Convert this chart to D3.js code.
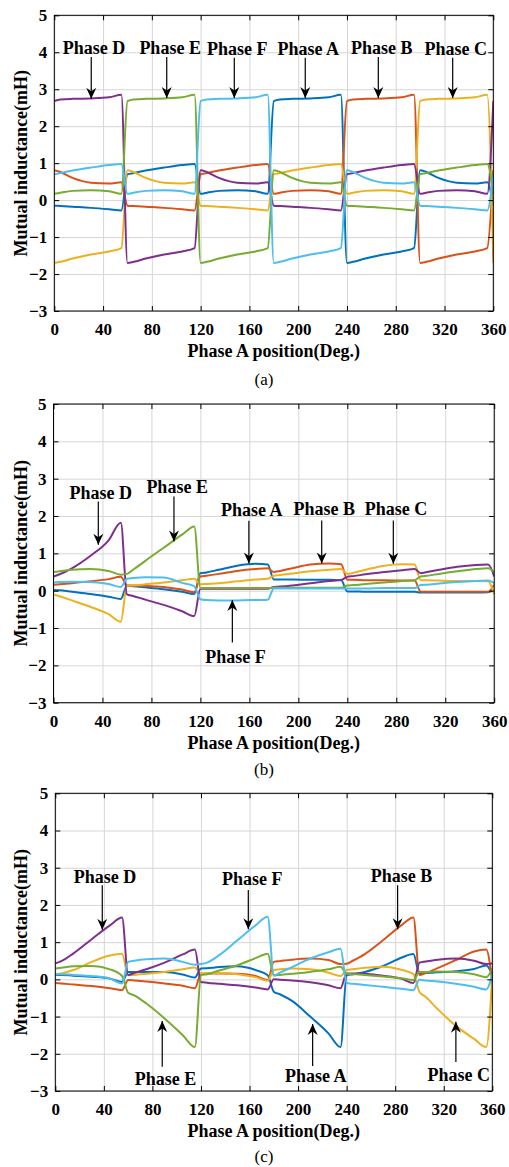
<!DOCTYPE html>
<meta charset="utf-8">
<style>
  body { margin: 0; background: #fff; }
  svg text { font-family: "Liberation Serif", "DejaVu Serif", serif; }
</style>

<!-- Load d3.js -->
<script src="https://d3js.org/d3.v7.min.js"></script>

<!-- Create a div where the graph will take place -->
<div id="my_dataviz"></div>

<script>

    // sample positions (Phase A position, deg) shared by every series
    var angles = [0,5,15,30,45,55, 60,65,75,90,105,115, 120,125,135,150,165,175,
                  180,185,195,210,225,235, 240,245,255,270,285,295, 300,305,315,330,345,355, 360];

    var xTicks = [0,40,80,120,160,200,240,280,320,360];
    var yTicks = [-3,-2,-1,0,1,2,3,4,5];

    var phaseNames  = ["Phase A","Phase B","Phase C","Phase D","Phase E","Phase F"];
    var phaseColors = ["#0072BD","#D95319","#EDB120","#7E2F8E","#77AC30","#4DBEEE"];

    // (a) mutual inductance, mH
    var a_A = [-0.15,-0.16,-0.18,-0.21,-0.25,-0.28, 0.70,0.73,0.80,0.88,0.95,0.98, 0.17,0.20,0.25,0.27,0.24,0.17,
               2.68,2.72,2.74,2.75,2.78,2.85, -1.70,-1.67,-1.58,-1.47,-1.39,-1.30, 0.81,0.76,0.60,0.47,0.45,0.48, -0.15];
    var a_B = [0.81,0.76,0.60,0.47,0.45,0.48, -0.15,-0.16,-0.18,-0.21,-0.25,-0.28, 0.70,0.73,0.80,0.88,0.95,0.98,
               0.17,0.20,0.25,0.27,0.24,0.17, 2.68,2.72,2.74,2.75,2.78,2.85, -1.70,-1.67,-1.58,-1.47,-1.39,-1.30, 0.81];
    var a_C = [-1.70,-1.67,-1.58,-1.47,-1.39,-1.30, 0.81,0.76,0.60,0.47,0.45,0.48, -0.15,-0.16,-0.18,-0.21,-0.25,-0.28,
               0.70,0.73,0.80,0.88,0.95,0.98, 0.17,0.20,0.25,0.27,0.24,0.17, 2.68,2.72,2.74,2.75,2.78,2.85, -1.70];
    var a_D = [2.68,2.72,2.74,2.75,2.78,2.85, -1.70,-1.67,-1.58,-1.47,-1.39,-1.30, 0.81,0.76,0.60,0.47,0.45,0.48,
               -0.15,-0.16,-0.18,-0.21,-0.25,-0.28, 0.70,0.73,0.80,0.88,0.95,0.98, 0.17,0.20,0.25,0.27,0.24,0.17, 2.68];
    var a_E = [0.17,0.20,0.25,0.27,0.24,0.17, 2.68,2.72,2.74,2.75,2.78,2.85, -1.70,-1.67,-1.58,-1.47,-1.39,-1.30,
               0.81,0.76,0.60,0.47,0.45,0.48, -0.15,-0.16,-0.18,-0.21,-0.25,-0.28, 0.70,0.73,0.80,0.88,0.95,0.98, 0.17];
    var a_F = [0.70,0.73,0.80,0.88,0.95,0.98, 0.17,0.20,0.25,0.27,0.24,0.17, 2.68,2.72,2.74,2.75,2.78,2.85,
               -1.70,-1.67,-1.58,-1.47,-1.39,-1.30, 0.81,0.76,0.60,0.47,0.45,0.48, -0.15,-0.16,-0.18,-0.21,-0.25,-0.28, 0.70];

    // (b)
    var b_A = [0.02,0.01,-0.03,-0.09,-0.16,-0.22, 0.13,0.12,0.09,0.04,-0.03,-0.09, 0.47,0.49,0.56,0.67,0.72,0.70,
               0.30,0.30,0.30,0.29,0.29,0.28, -0.02,-0.02,-0.03,-0.03,-0.03,-0.03, -0.05,-0.05,-0.05,-0.05,-0.05,-0.04, 0.02];
    var b_B = [0.16,0.17,0.20,0.25,0.31,0.37, 0.14,0.14,0.13,0.10,0.03,-0.04, 0.38,0.40,0.45,0.53,0.58,0.60,
               0.50,0.53,0.60,0.70,0.73,0.71, 0.29,0.29,0.28,0.28,0.27,0.27, -0.03,-0.03,-0.03,-0.03,-0.03,-0.03, 0.16];
    var b_C = [-0.10,-0.15,-0.26,-0.43,-0.63,-0.83, 0.13,0.14,0.17,0.22,0.28,0.32, 0.17,0.18,0.20,0.25,0.30,0.32,
               0.40,0.42,0.46,0.52,0.56,0.58, 0.45,0.48,0.56,0.67,0.71,0.70, 0.28,0.28,0.27,0.26,0.26,0.25, -0.10];
    var b_D = [0.38,0.44,0.60,0.93,1.35,1.82, -0.10,-0.14,-0.24,-0.38,-0.55,-0.68, 0.05,0.05,0.05,0.05,0.05,0.05,
               0.10,0.11,0.14,0.20,0.26,0.29, 0.37,0.39,0.44,0.50,0.55,0.58, 0.47,0.50,0.56,0.64,0.69,0.70, 0.38];
    var b_E = [0.50,0.52,0.56,0.58,0.53,0.43, 0.45,0.56,0.80,1.15,1.50,1.72, 0.07,0.07,0.07,0.07,0.07,0.07,
               0.08,0.08,0.08,0.08,0.08,0.08, 0.14,0.15,0.18,0.22,0.26,0.28, 0.38,0.40,0.45,0.52,0.58,0.60, 0.50];
    var b_F = [0.22,0.23,0.24,0.23,0.18,0.10, 0.32,0.34,0.36,0.35,0.21,0.12, -0.23,-0.25,-0.26,-0.26,-0.25,-0.24,
               0.06,0.06,0.06,0.06,0.06,0.06, 0.06,0.06,0.06,0.07,0.07,0.07, 0.15,0.16,0.19,0.23,0.26,0.27, 0.20];

    // (c)
    var c_A = [0.12,0.12,0.10,0.07,0.02,-0.07, 0.20,0.20,0.20,0.20,0.13,0.05, 0.29,0.30,0.33,0.35,0.25,0.11,
               -0.33,-0.40,-0.58,-1.00,-1.45,-1.82, 0.11,0.14,0.20,0.36,0.58,0.68, 0.16,0.17,0.19,0.22,0.28,0.37, 0.12];
    var c_B = [-0.10,-0.11,-0.14,-0.18,-0.24,-0.29, -0.02,-0.03,-0.06,-0.11,-0.17,-0.24, 0.15,0.15,0.16,0.15,0.09,-0.02,
               0.47,0.49,0.53,0.56,0.52,0.41, 0.42,0.50,0.68,1.05,1.45,1.66, 0.12,0.17,0.30,0.52,0.75,0.80, -0.10];
    var c_C = [0.14,0.16,0.25,0.47,0.64,0.69, 0.11,0.12,0.15,0.20,0.27,0.32, 0.16,0.17,0.17,0.14,0.06,-0.04,
               0.25,0.27,0.29,0.27,0.18,0.09, 0.25,0.27,0.31,0.34,0.26,0.14, -0.34,-0.47,-0.80,-1.25,-1.60,-1.82, 0.14];
    var c_D = [0.43,0.49,0.70,1.08,1.45,1.66, 0.12,0.17,0.27,0.45,0.67,0.80, -0.07,-0.09,-0.12,-0.16,-0.22,-0.27,
               0.00,-0.01,-0.03,-0.08,-0.16,-0.24, 0.16,0.16,0.15,0.10,0.02,-0.10, 0.45,0.48,0.53,0.56,0.50,0.41, 0.43];
    var c_E = [0.29,0.31,0.35,0.36,0.27,0.09, -0.36,-0.43,-0.65,-1.05,-1.50,-1.82, 0.11,0.14,0.24,0.38,0.57,0.69,
               0.11,0.12,0.15,0.20,0.27,0.34, 0.15,0.14,0.12,0.08,0.03,-0.02, 0.20,0.20,0.21,0.20,0.14,0.06, 0.29];
    var c_F = [0.14,0.14,0.12,0.09,0.02,-0.11, 0.47,0.50,0.54,0.56,0.47,0.39, 0.41,0.45,0.65,1.05,1.45,1.68,
               0.10,0.18,0.33,0.56,0.73,0.82, -0.10,-0.12,-0.15,-0.20,-0.25,-0.29, -0.01,-0.03,-0.06,-0.12,-0.20,-0.27, 0.14];

    var serif = '"Liberation Serif", "DejaVu Serif", serif';

    // panel boxes and annotations (annotation coords in data units: text x,y / arrow x, from, to)
    var panels = [
      { left: 54.3, right: 493.3, top: 15.3, bottom: 311, caption: "(a)", capY: 385,
        series: [a_A, a_B, a_C, a_D, a_E, a_F],
        notes: [
          {t: "Phase D", tx: 32.6, ty: 4.12, ax: 30.3, y0: 3.87, y1: 2.74},
          {t: "Phase E", tx: 95.0, ty: 4.12, ax: 92.2, y0: 3.87, y1: 2.76},
          {t: "Phase F", tx: 150.0, ty: 4.10, ax: 147.6, y0: 3.85, y1: 2.76},
          {t: "Phase A", tx: 208.2, ty: 4.10, ax: 205.8, y0: 3.85, y1: 2.76},
          {t: "Phase B", tx: 268.5, ty: 4.12, ax: 265.7, y0: 3.87, y1: 2.76},
          {t: "Phase C", tx: 329.3, ty: 4.10, ax: 326.7, y0: 3.85, y1: 2.76}
        ] },
      { left: 53.5, right: 494.2, top: 404, bottom: 702.7, caption: "(b)", capY: 775,
        series: [b_A, b_B, b_C, b_D, b_E, b_F],
        notes: [
          {t: "Phase D", tx: 38.6, ty: 2.63, ax: 36.6, y0: 2.39, y1: 1.23},
          {t: "Phase E", tx: 101.0, ty: 2.79, ax: 98.4, y0: 2.52, y1: 1.32},
          {t: "Phase A", tx: 162.0, ty: 2.16, ax: 159.6, y0: 1.87, y1: 0.73},
          {t: "Phase B", tx: 221.2, ty: 2.20, ax: 219.1, y0: 1.88, y1: 0.73},
          {t: "Phase C", tx: 279.8, ty: 2.20, ax: 277.6, y0: 1.88, y1: 0.72},
          {t: "Phase F", tx: 148.6, ty: -1.76, ax: 146.1, y0: -1.39, y1: -0.25}
        ] },
      { left: 55.3, right: 492.3, top: 793.3, bottom: 1091, caption: "(c)", capY: 1162,
        series: [c_A, c_B, c_C, c_D, c_E, c_F],
        notes: [
          {t: "Phase D", tx: 41.0, ty: 2.76, ax: 38.7, y0: 2.53, y1: 1.33},
          {t: "Phase F", tx: 162.2, ty: 2.71, ax: 159.0, y0: 2.40, y1: 1.35},
          {t: "Phase B", tx: 285.2, ty: 2.79, ax: 282.0, y0: 2.53, y1: 1.35},
          {t: "Phase E", tx: 90.8, ty: -2.66, ax: 88.1, y0: -2.35, y1: -1.12},
          {t: "Phase A", tx: 214.6, ty: -2.58, ax: 212.0, y0: -2.33, y1: -1.20},
          {t: "Phase C", tx: 332.4, ty: -2.56, ax: 330.0, y0: -2.22, y1: -1.14}
        ] }
    ];

    // append the svg object to the body of the page
    var svg = d3.select("#my_dataviz")
      .append("svg")
        .attr("width", 509)
        .attr("height", 1167)
        .style("display", "block")
        .style("background", "#fff");

    // arrow head (notched, black)
    svg.append("defs").append("marker")
        .attr("id", "arrowHead")
        .attr("viewBox", "0 0 11 11")
        .attr("refX", 11)
        .attr("refY", 5.5)
        .attr("markerUnits", "userSpaceOnUse")
        .attr("markerWidth", 11)
        .attr("markerHeight", 11)
        .attr("orient", "auto")
      .append("path")
        .attr("d", "M0,0.5 L11,5.5 L0,10.5 L3.5,5.5 Z")
        .attr("fill", "#000");

    panels.forEach(function(p, pi) {
        var width = p.right - p.left,
            height = p.bottom - p.top;

        var g = svg.append("g")
            .attr("transform", "translate(" + p.left + "," + p.top + ")");

        var x = d3.scaleLinear().domain([0, 360]).range([0, width]);
        var y = d3.scaleLinear().domain([-3, 5]).range([height, 0]);

        // grid lines
        g.append("g")
            .attr("class", "grid")
            .attr("transform", "translate(0," + height + ")")
            .call(d3.axisBottom(x).tickValues(xTicks).tickSize(-height).tickFormat(""));
        g.append("g")
            .attr("class", "grid")
            .call(d3.axisLeft(y).tickValues(yTicks).tickSize(-width).tickFormat(""));
        g.selectAll(".grid .domain").remove();
        g.selectAll(".grid line").attr("stroke", "#d6d6d6").attr("stroke-width", 1);

        // Add a clipPath: everything out of this area won't be drawn.
        g.append("clipPath")
            .attr("id", "clip" + pi)
          .append("rect")
            .attr("width", width)
            .attr("height", height);

        // the six phases
        var line = d3.line()
            .x(function(d, j) { return x(angles[j]); })
            .y(function(d) { return y(d); })
            .curve(d3.curveMonotoneX);

        p.series.forEach(function(vals, i) {
            g.append("path")
                .datum(vals)
                .attr("clip-path", "url(#clip" + pi + ")")
                .attr("fill", "none")
                .attr("stroke", phaseColors[i])
                .attr("stroke-width", 2)
                .attr("stroke-linejoin", "round")
                .attr("d", line)
              .append("title").text(phaseNames[i]);
        });

        // axes, ticks inside the box
        var fmt = d3.format("d");
        var xb = g.append("g")
            .attr("transform", "translate(0," + height + ")")
            .call(d3.axisBottom(x).tickValues(xTicks).tickSize(-5).tickPadding(12).tickFormat(fmt));
        var yl = g.append("g")
            .call(d3.axisLeft(y).tickValues(yTicks).tickSize(-5).tickPadding(7).tickFormat(fmt));
        g.append("g")
            .call(d3.axisTop(x).tickValues(xTicks).tickSize(-5).tickFormat(""));
        g.append("g")
            .attr("transform", "translate(" + width + ",0)")
            .call(d3.axisRight(y).tickValues(yTicks).tickSize(-5).tickFormat(""));
        g.selectAll(".domain").remove();
        g.selectAll(".tick line").filter(function() { return !this.closest(".grid"); })
            .attr("stroke", "#000");
        [xb, yl].forEach(function(a) {
            a.attr("font-family", null).attr("font-size", null);
            a.selectAll("text")
                .attr("fill", "#000")
                .style("font-family", serif)
                .style("font-size", "17px")
                .style("font-weight", "bold");
        });

        // box
        g.append("rect")
            .attr("width", width)
            .attr("height", height)
            .attr("fill", "none")
            .attr("stroke", "#000")
            .attr("stroke-width", 1);

        // axis titles
        g.append("text")
            .attr("x", width / 2)
            .attr("y", height + 46.5)
            .attr("text-anchor", "middle")
            .style("font-family", serif)
            .style("font-size", "18px")
            .style("font-weight", "bold")
            .text("Phase A position(Deg.)");
        g.append("text")
            .attr("transform", "translate(" + (27 - p.left) + "," + (height / 2) + ") rotate(-90)")
            .attr("text-anchor", "middle")
            .style("font-family", serif)
            .style("font-size", "18px")
            .style("font-weight", "bold")
            .text("Mutual inductance(mH)");

        // caption
        svg.append("text")
            .attr("x", 264)
            .attr("y", p.capY)
            .attr("text-anchor", "middle")
            .style("font-family", serif)
            .style("font-size", "17px")
            .text(p.caption);

        // phase labels with arrows
        p.notes.forEach(function(n) {
            g.append("line")
                .attr("x1", x(n.ax)).attr("y1", y(n.y0))
                .attr("x2", x(n.ax)).attr("y2", y(n.y1))
                .attr("stroke", "#000")
                .attr("stroke-width", 1.2)
                .attr("marker-end", "url(#arrowHead)");
            g.append("text")
                .attr("x", x(n.tx))
                .attr("y", y(n.ty))
                .attr("dy", "0.35em")
                .attr("text-anchor", "middle")
                .style("font-family", serif)
                .style("font-size", "18px")
                .style("font-weight", "bold")
                .text(n.t);
        });
    });

</script>
